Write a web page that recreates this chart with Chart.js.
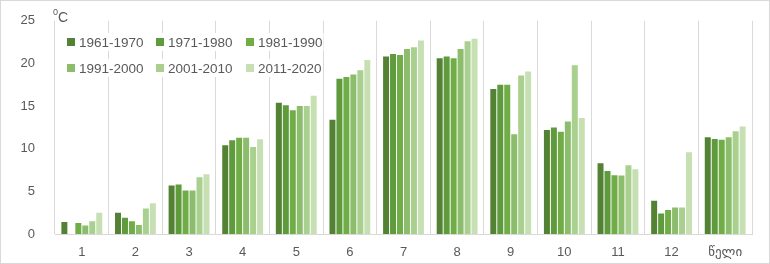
<!DOCTYPE html>
<html>
<head>
<meta charset="utf-8">
<script src="https://cdn.jsdelivr.net/npm/chart.js@4"></script>
<style>
    html, body { margin: 0; padding: 0; background: #fff; }
    #wrap { position: relative; width: 768px; height: 262px; border: 1px solid #d9d9d9; }
</style>
</head>
<body>
<div id="wrap"><canvas id="chart"></canvas></div>
<script>
// ========================================
// Data
// ========================================

const months = ['1', '2', '3', '4', '5', '6', '7', '8', '9', '10', '11', '12', 'წელი'];
const seriesNames = ['1961-1970', '1971-1980', '1981-1990', '1991-2000', '2001-2010', '2011-2020'];
const seriesColors = ['#548235', '#5f9a3d', '#70ad47', '#8cbd6c', '#a9d08e', '#c6e0b4'];

const t1961 = [1.4, 2.5, 5.7, 10.4, 15.4, 13.4, 20.8, 20.6, 17.0, 12.2, 8.3, 3.9, 11.35];
const t1971 = [null, 1.9, 5.8, 11.0, 15.1, 18.2, 21.1, 20.8, 17.5, 12.5, 7.4, 2.4, 11.15];
const t1981 = [1.3, 1.5, 5.1, 11.3, 14.5, 18.4, 21.0, 20.6, 17.5, 12.0, 6.9, 2.8, 11.05];
const t1991 = [1.0, 1.05, 5.1, 11.3, 15.0, 18.7, 21.7, 21.7, 11.7, 13.2, 6.85, 3.1, 11.35];
const t2001 = [1.5, 3.0, 6.65, 10.2, 15.0, 19.2, 21.9, 22.6, 18.6, 19.8, 8.05, 3.1, 12.05];
const t2011 = [2.5, 3.6, 7.0, 11.1, 16.2, 20.4, 22.7, 22.9, 19.05, 13.6, 7.6, 9.6, 12.6];

const seriesValues = [t1961, t1971, t1981, t1991, t2001, t2011];
const yTicks = [0, 5, 10, 15, 20, 25];

const textColor = '#595959';
const fontFamily = '"Liberation Sans", "DejaVu Sans", sans-serif';

// ========================================
// Plugins
// ========================================

const unitLabel = {
    id: 'unitLabel',
    afterDraw(chart) {
        const ctx = chart.ctx;
        ctx.save();
        ctx.fillStyle = textColor;
        ctx.textBaseline = 'alphabetic';
        ctx.font = '9px ' + fontFamily;
        ctx.fillText('0', 52, 14);
        ctx.font = '14px ' + fontFamily;
        ctx.fillText('C', 57, 21);
        ctx.restore();
    }
};

const innerLegend = {
    id: 'innerLegend',
    afterDraw(chart) {
        const ctx = chart.ctx;
        const colX = [66, 155, 245];
        const rowY = [41, 67];
        ctx.save();
        ctx.font = '13.5px ' + fontFamily;
        ctx.textBaseline = 'middle';
        chart.data.datasets.forEach((ds, i) => {
            const x = colX[i % 3];
            const y = rowY[Math.floor(i / 3)];
            ctx.fillStyle = '#fff';
            ctx.fillRect(x - 1, y - 9, ctx.measureText(ds.label).width + 14, 18);
            ctx.fillStyle = ds.backgroundColor;
            ctx.fillRect(x, y - 4, 8, 8);
            ctx.fillStyle = textColor;
            ctx.fillText(ds.label, x + 12, y + 1);
        });
        ctx.restore();
    }
};

// ========================================
// Chart
// ========================================

const datasets = seriesNames.map((name, i) => ({
    label: name,
    data: seriesValues[i],
    backgroundColor: seriesColors[i],
    borderWidth: 0,
    barPercentage: 0.86,
    categoryPercentage: 0.78
}));

new Chart(document.getElementById('chart'), {
    type: 'bar',
    data: { labels: months, datasets: datasets },
    options: {
        responsive: true,
        maintainAspectRatio: false,
        animation: false,
        layout: { padding: { left: 0, right: 17, top: 13, bottom: 0 } },
        plugins: {
            legend: { display: false },
            tooltip: { enabled: false }
        },
        scales: {
            x: {
                grid: { color: '#d9d9d9', lineWidth: 1, offset: true, drawTicks: false },
                border: { color: '#d9d9d9' },
                ticks: { color: textColor, font: { family: fontFamily, size: 13 }, padding: 11 },
                afterFit(scale) { scale.height = 29; }
            },
            y: {
                min: 0,
                max: 25,
                afterBuildTicks(scale) { scale.ticks = yTicks.map(v => ({ value: v })); },
                grid: { display: false },
                border: { display: false },
                ticks: { color: textColor, font: { family: fontFamily, size: 13 }, padding: 12 },
                afterFit(scale) { scale.width = 54; }
            }
        }
    },
    plugins: [innerLegend, unitLabel]
});
</script>
</body>
</html>
